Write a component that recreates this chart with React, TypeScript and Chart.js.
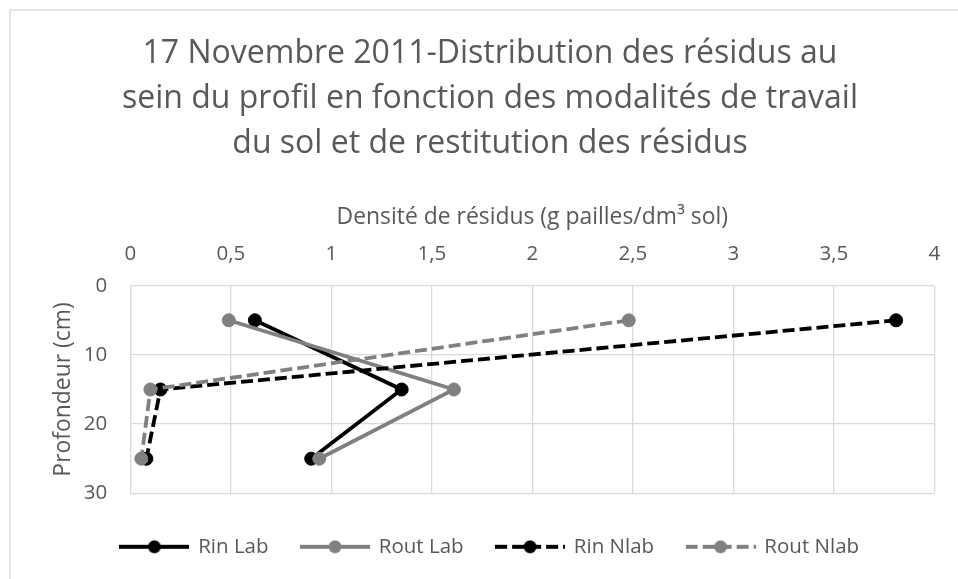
import React, { useEffect, useRef } from 'react';
import { Chart, registerables } from 'chart.js';

Chart.register(...registerables);

const titleLines = [
  '17 Novembre 2011-Distribution des résidus au',
  'sein du profil en fonction des modalités de travail',
  'du sol et de restitution des résidus',
];
const xAxisTitle = 'Densité de résidus (g pailles/dm³ sol)';
const yAxisTitle = 'Profondeur (cm)';
const seriesNames = ['Rin Lab', 'Rout Lab', 'Rin Nlab', 'Rout Nlab'];
const depths = [5, 15, 25];
const rinLab = [0.62, 1.35, 0.9];
const routLab = [0.49, 1.61, 0.94];
const rinNlab = [3.81, 0.15, 0.08];
const routNlab = [2.48, 0.1, 0.055];
const xTickValues = [0, 0.5, 1, 1.5, 2, 2.5, 3, 3.5, 4];
const xTickLabels = ['0', '0,5', '1', '1,5', '2', '2,5', '3', '3,5', '4'];
const yTickValues = [0, 10, 20, 30];
const yTickLabels = ['0', '10', '20', '30'];

const seriesValues = [rinLab, routLab, rinNlab, routNlab];
const seriesColors = ['#000000', '#808080', '#000000', '#808080'];
const seriesDashed = [false, false, true, true];

const TEXT = '#595959';
const GRID = '#d9d9d9';
const W = 980;
const H = 590;
const DASH = [12, 5];

function labelFor(values: number[], labels: string[], v: number) {
  const i = values.findIndex((t) => Math.abs(t - v) < 1e-9);
  return i >= 0 ? labels[i] : '';
}

function legendImage(color: string, dashed: boolean) {
  const c = document.createElement('canvas');
  c.width = 70;
  c.height = 16;
  const g = c.getContext('2d')!;
  g.strokeStyle = color;
  g.lineWidth = 3.8;
  g.setLineDash(dashed ? DASH : []);
  g.beginPath();
  g.moveTo(0, 8);
  g.lineTo(70, 8);
  g.stroke();
  g.setLineDash([]);
  g.fillStyle = color;
  g.beginPath();
  g.arc(35, 8, 6.5, 0, Math.PI * 2);
  g.fill();
  return c;
}

const framePlugin = {
  id: 'frame',
  beforeDraw(chart: any) {
    const ctx = chart.ctx;
    ctx.save();
    ctx.fillStyle = '#ffffff';
    ctx.fillRect(0, 0, chart.width, chart.height);
    ctx.strokeStyle = GRID;
    ctx.lineWidth = 1.3;
    ctx.strokeRect(10, 10, chart.width - 20, chart.height - 20);
    ctx.restore();
  },
};

export default function App() {
  const ref = useRef<HTMLCanvasElement | null>(null);

  useEffect(() => {
    if (!ref.current) return;
    Chart.defaults.font.family = "'Open Sans', sans-serif";
    const images = seriesNames.map((_, i) => legendImage(seriesColors[i], seriesDashed[i]));
    const datasets = seriesValues.map((vals, i) => ({
      label: seriesNames[i],
      data: vals.map((v, j) => ({ x: v, y: depths[j] })),
      borderColor: seriesColors[i],
      backgroundColor: seriesColors[i],
      borderWidth: 3.8,
      borderDash: seriesDashed[i] ? DASH : [],
      pointRadius: 6.5,
      pointBorderWidth: 1,
      pointBackgroundColor: seriesColors[i],
      pointBorderColor: seriesColors[i],
      fill: false,
      tension: 0,
      order: seriesNames.length - i,
    }));

    const chart = new Chart(ref.current, {
      type: 'line',
      data: { datasets },
      plugins: [framePlugin],
      options: {
        animation: false,
        responsive: false,
        devicePixelRatio: 1,
        layout: { padding: { left: 10, top: 10, right: 10, bottom: 22.95 } },
        scales: {
          x: {
            type: 'linear',
            position: 'top',
            min: 0,
            max: 4,
            ticks: {
              stepSize: 0.5,
              color: TEXT,
              font: { size: 20.5 },
              padding: 19,
              maxRotation: 0,
              autoSkip: false,
              callback: (v: any) => labelFor(xTickValues, xTickLabels, Number(v)),
            },
            grid: { color: GRID, lineWidth: 1.3, drawTicks: false },
            border: { display: false },
            title: {
              display: true,
              text: xAxisTitle,
              color: TEXT,
              font: { size: 22.9, lineHeight: 1.2 },
              padding: { top: 37.5, bottom: 0 },
            },
            afterFit: (s: any) => {
              s.height = 119.5;
            },
          },
          y: {
            type: 'linear',
            position: 'left',
            reverse: true,
            min: 0,
            max: 30,
            ticks: {
              stepSize: 10,
              color: TEXT,
              font: { size: 20.5 },
              padding: 23,
              callback: (v: any) => labelFor(yTickValues, yTickLabels, Number(v)),
            },
            grid: { color: GRID, lineWidth: 1.3, drawTicks: false },
            border: { display: false },
            title: {
              display: true,
              text: yAxisTitle,
              color: TEXT,
              font: { size: 22.9, lineHeight: 1.2 },
              padding: { top: 39.75, bottom: 0 },
            },
            afterFit: (s: any) => {
              s.width = 120.3;
            },
          },
          y2: {
            type: 'linear',
            position: 'right',
            display: true,
            grid: { display: false },
            ticks: { display: false },
            border: { display: false },
            afterFit: (s: any) => {
              s.width = 35.7;
            },
          },
        },
        plugins: {
          title: {
            display: true,
            text: titleLines,
            color: TEXT,
            font: { size: 32, lineHeight: 1.4, weight: 'normal' },
            padding: { top: 21.8, bottom: 0 },
          },
          legend: {
            display: true,
            position: 'bottom',
            title: { display: true, text: ' ', font: { size: 10.25, lineHeight: 1 }, padding: 0 },
            labels: {
              usePointStyle: true,
              pointStyleWidth: 67,
              padding: 33,
              color: TEXT,
              font: { size: 20.5 },
              generateLabels: (c: any) =>
                c.data.datasets.map((ds: any, i: number) => ({
                  text: ds.label,
                  pointStyle: images[i],
                  fillStyle: seriesColors[i],
                  strokeStyle: seriesColors[i],
                  lineWidth: 0,
                  hidden: false,
                  datasetIndex: i,
                  fontColor: TEXT,
                })),
            },
          },
          tooltip: { enabled: false },
        },
      } as any,
    });
    return () => chart.destroy();
  }, []);

  return (
    <div style={{ position: 'absolute', left: 0, top: 0, width: 958, height: 579, overflow: 'hidden', background: '#fff' }}>
      <canvas ref={ref} width={W} height={H} style={{ width: W, height: H, display: 'block' }} />
    </div>
  );
}
